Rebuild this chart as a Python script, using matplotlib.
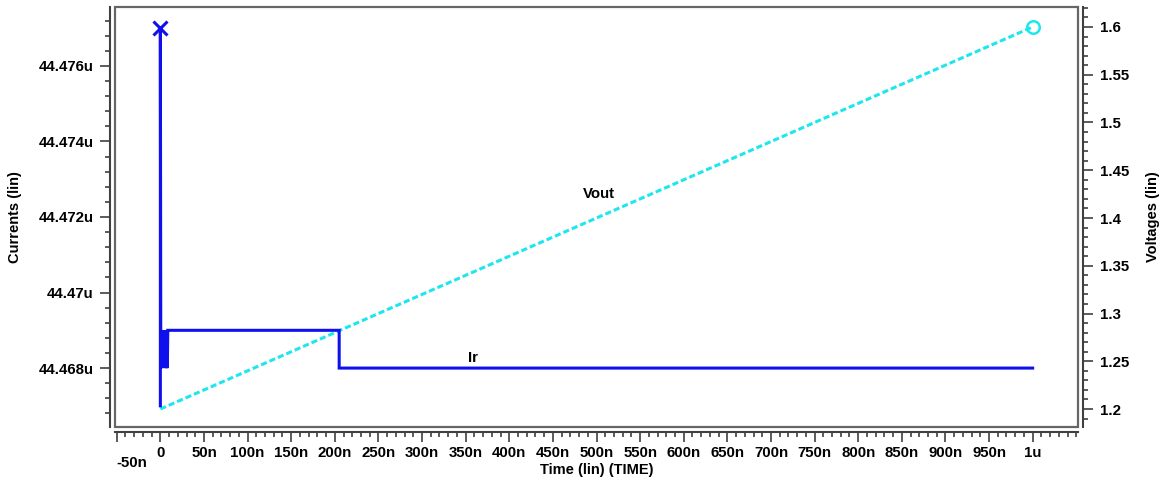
import matplotlib
matplotlib.use("Agg")
import matplotlib.pyplot as plt
from matplotlib.patches import Rectangle
from matplotlib.ticker import MultipleLocator, FixedLocator

plt.rcParams['font.family'] = ['Liberation Sans', 'DejaVu Sans']
plt.rcParams['font.weight'] = 'bold'
plt.rcParams['font.size'] = 10

# Ir current trace (time in ns, current in uA)
ir_time = [0, 0, 0.5, 1, 1.5, 2, 2.5, 3, 3.5, 4, 4.5, 5, 5.5, 6, 6.5, 7,
           7.5, 8, 8.5, 9, 205, 205, 1000]
ir_curr = [44.467, 44.477, 44.468, 44.4685, 44.468, 44.4685, 44.468, 44.4685,
           44.469, 44.4685, 44.469, 44.4685, 44.469, 44.468, 44.469, 44.468,
           44.469, 44.468, 44.469, 44.469, 44.469, 44.468, 44.468]

# Vout voltage ramp (time in ns, volts)
vout_time = [0, 1000]
vout_volt = [1.2, 1.6]

# Axis ticks
time_ticks = list(range(-50, 1001, 50))
time_labels = ['' if t == -50 else ('0' if t == 0 else ('1u' if t == 1000 else f'{t}n'))
               for t in time_ticks]
curr_ticks = [44.468, 44.470, 44.472, 44.474, 44.476]
curr_labels = ['44.468u', '44.47u', '44.472u', '44.474u', '44.476u']
volt_ticks = [1.2, 1.25, 1.3, 1.35, 1.4, 1.45, 1.5, 1.55, 1.6]
volt_labels = ['1.2', '1.25', '1.3', '1.35', '1.4', '1.45', '1.5', '1.55', '1.6']

BLUE = '#1010ee'
CYAN = '#1ee6ee'
FRAME = '#666666'
AX = '#404040'
TICK_FS = 10.8

fig = plt.figure(figsize=(11.65, 4.78), dpi=100)
ax = fig.add_axes([115 / 1165, 1 - 427 / 478, 963 / 1165, 420 / 478])
axv = ax.twinx()

ax.set_xlim(-52, 1052)
ax.set_ylim(44.46644, 44.47756)
axv.set_ylim(1.1812, 1.6209)

# Frame around the plotting area
ax.add_patch(Rectangle((0, 0), 1, 1, transform=ax.transAxes, fill=False,
                       edgecolor=FRAME, lw=1.6, clip_on=False, zorder=5))

# Offset axis lines carrying the ticks
off = 3.6
for s in ['top', 'right']:
    ax.spines[s].set_visible(False)
for s in ['left', 'bottom']:
    ax.spines[s].set_position(('outward', off))
    ax.spines[s].set_color(AX)
    ax.spines[s].set_linewidth(1.5)
for s in ['top', 'left', 'bottom']:
    axv.spines[s].set_visible(False)
axv.spines['right'].set_position(('outward', off))
axv.spines['right'].set_color(AX)
axv.spines['right'].set_linewidth(1.5)

ax.xaxis.set_major_locator(FixedLocator(time_ticks))
ax.set_xticklabels(time_labels)
ax.xaxis.set_minor_locator(MultipleLocator(10))
ax.yaxis.set_major_locator(FixedLocator(curr_ticks))
ax.set_yticklabels(curr_labels)
ax.yaxis.set_minor_locator(MultipleLocator(0.0004))
axv.yaxis.set_major_locator(FixedLocator(volt_ticks))
axv.set_yticklabels(volt_labels)
axv.yaxis.set_minor_locator(MultipleLocator(0.01))

for a in (ax, axv):
    a.tick_params(which='major', length=7, width=1.2, color=AX, labelsize=TICK_FS, pad=5)
    a.tick_params(which='minor', length=3.5, width=1.2, color=AX)
ax.tick_params(axis='x', which='major', pad=3)

ax.text(-50, -0.085, '-50n', transform=ax.get_xaxis_transform(), ha='left', va='center',
        fontsize=TICK_FS, fontweight='bold')

ax.set_xlabel('Time (lin) (TIME)', fontsize=10.5, fontweight='bold', labelpad=2)
ax.set_ylabel('Currents (lin)', fontsize=10.5, fontweight='bold', labelpad=12)
axv.set_ylabel('Voltages (lin)', fontsize=10.5, fontweight='bold', rotation=90, labelpad=12)

# Traces
axv.plot(vout_time, vout_volt, color=CYAN, lw=2.2, linestyle=(0, (2, 1)), zorder=3)
axv.plot(vout_time[-1], vout_volt[-1], marker='o', ms=9, mfc='none', mec=CYAN, mew=1.8,
         zorder=4)
ax.plot(ir_time, ir_curr, color=BLUE, lw=2.2, solid_joinstyle='miter', zorder=4)
ax.plot(ir_time[1], ir_curr[1], marker='x', ms=10, mec=BLUE, mew=2.2, zorder=6,
        clip_on=False)
ax.set_zorder(axv.get_zorder() + 1)
ax.patch.set_visible(False)

axv.text(503, 1.425, 'Vout', ha='center', va='center', fontsize=TICK_FS, fontweight='bold')
ax.text(358, 44.46826, 'Ir', ha='center', va='center', fontsize=TICK_FS, fontweight='bold')

fig.savefig('out.png', dpi=100)
